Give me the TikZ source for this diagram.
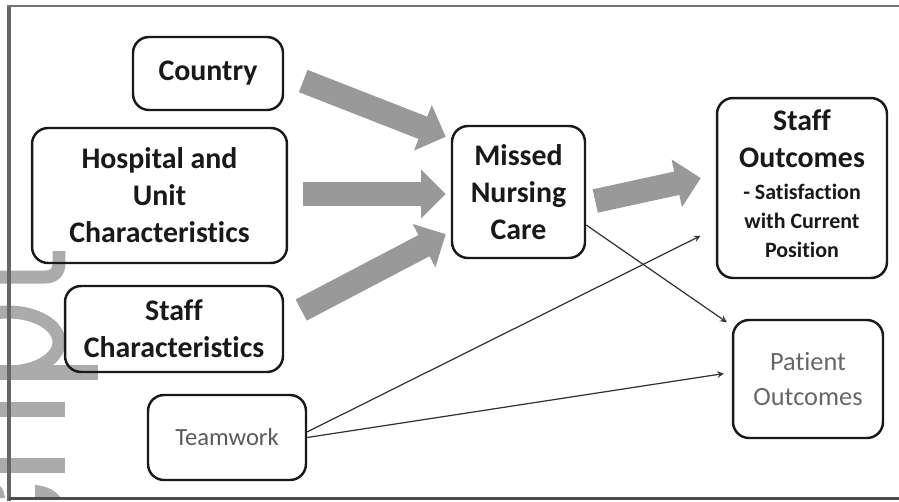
\documentclass[tikz,border=0pt]{standalone}
\usepackage{fontspec}
\setmainfont{Carlito}[Ligatures=NoCommon]
\usetikzlibrary{arrows.meta}
\newcommand\subtext[1]{{\fontsize{12.5}{16.5}\selectfont\begin{tabular}[t]{@{}c@{}}#1\end{tabular}}}
\begin{document}
\begin{tikzpicture}[x=0.02cm, y=-0.02cm, >=stealth, line join=round,
	box/.style={draw=black!90, line width=1.4pt, rounded corners=0.32cm, align=center, inner sep=0pt},
	bigtext/.style={font=\fontsize{17}{21}\selectfont\bfseries, text=black!90},
	plaintext/.style={font=\fontsize{14}{20}\selectfont, text=black!65},
	fatarrow/.style={draw=black!40, line width=13.6pt, -{Triangle[width=27pt,length=14pt]}},
	link/.style={draw=black!80, line width=0.7pt, ->},
	wmark/.style={draw=black!33, line width=0.26cm}]
	\useasboundingbox (0,0) rectangle (899,501);
	\draw[wmark] (59,251) -- (59,263) .. controls (59,272) and (54,277) .. (45,277) -- (0,277);
	\draw[wmark] (8,342) ellipse [x radius=51, y radius=30];
	\fill[black!33] (0,365) rectangle (98,380);
	\fill[black!33] (0,402) rectangle (65,417);
	\fill[black!33] (0,458) rectangle (65,473);
	\fill[black!33] (35,498) -- (35,485) .. controls (48,486) and (56,491) .. (61,498) -- cycle;
	\fill[black!33] (0,486) .. controls (3,488) and (4,492) .. (5,498) -- (0,498) -- cycle;
	\draw[black!60, line width=0.08cm] (9,5) -- (9,501);
	\draw[black!55, line width=0.05cm] (7,6) -- (899,6);
	\draw[black!70, line width=0.06cm] (9,498) -- (899,498);
	\node[box, bigtext, minimum width=3cm, minimum height=1.46cm] (country) at (208,73.5) {Country};
	\node[box, bigtext, minimum width=5.1cm, minimum height=2.7cm] (hospital) at (159.5,195.5) {Hospital and\\Unit\\Characteristics};
	\node[box, bigtext, minimum width=4.36cm, minimum height=1.72cm] (staffchar) at (174,329) {Staff\\Characteristics};
	\node[box, plaintext, minimum width=3.16cm, minimum height=1.7cm] (teamwork) at (227,437.5) {Teamwork};
	\node[box, bigtext, minimum width=2.66cm, minimum height=2.64cm] (missed) at (518.5,192) {Missed\\Nursing\\Care};
	\node[box, bigtext, minimum width=3.4cm, minimum height=3.6cm] (staffout) at (802,188) {Staff\\Outcomes\\[-3pt]\subtext{- Satisfaction\\with Current\\Position}};
	\node[box, plaintext, font=\fontsize{15}{20}\selectfont, text=black!60, minimum width=3cm, minimum height=2.36cm] (patient) at (808,379) {Patient\\Outcomes};
	\draw[fatarrow] ([shift={(19,7.5)}]country.east) -- ([shift={(-5,12)}]missed.north west);
	\draw[fatarrow] ([shift={(15,-1.5)}]hospital.east) -- ([shift={(-5,2)}]missed.west);
	\draw[fatarrow] ([shift={(17,-19)}]staffchar.east) -- ([shift={(-5,-25)}]missed.south west);
	\draw[fatarrow] ([shift={(9,9)}]missed.east) -- ([shift={(-15,-10)}]staffout.west);
	\draw[link, shorten >=0.12cm] (missed.-26) -- (patient.145);
	\draw[link, shorten >=0.34cm] (teamwork.4) -- (staffout.205);
	\draw[link, shorten >=0.16cm] (teamwork.east) -- (patient.175);
\end{tikzpicture}
\end{document}
